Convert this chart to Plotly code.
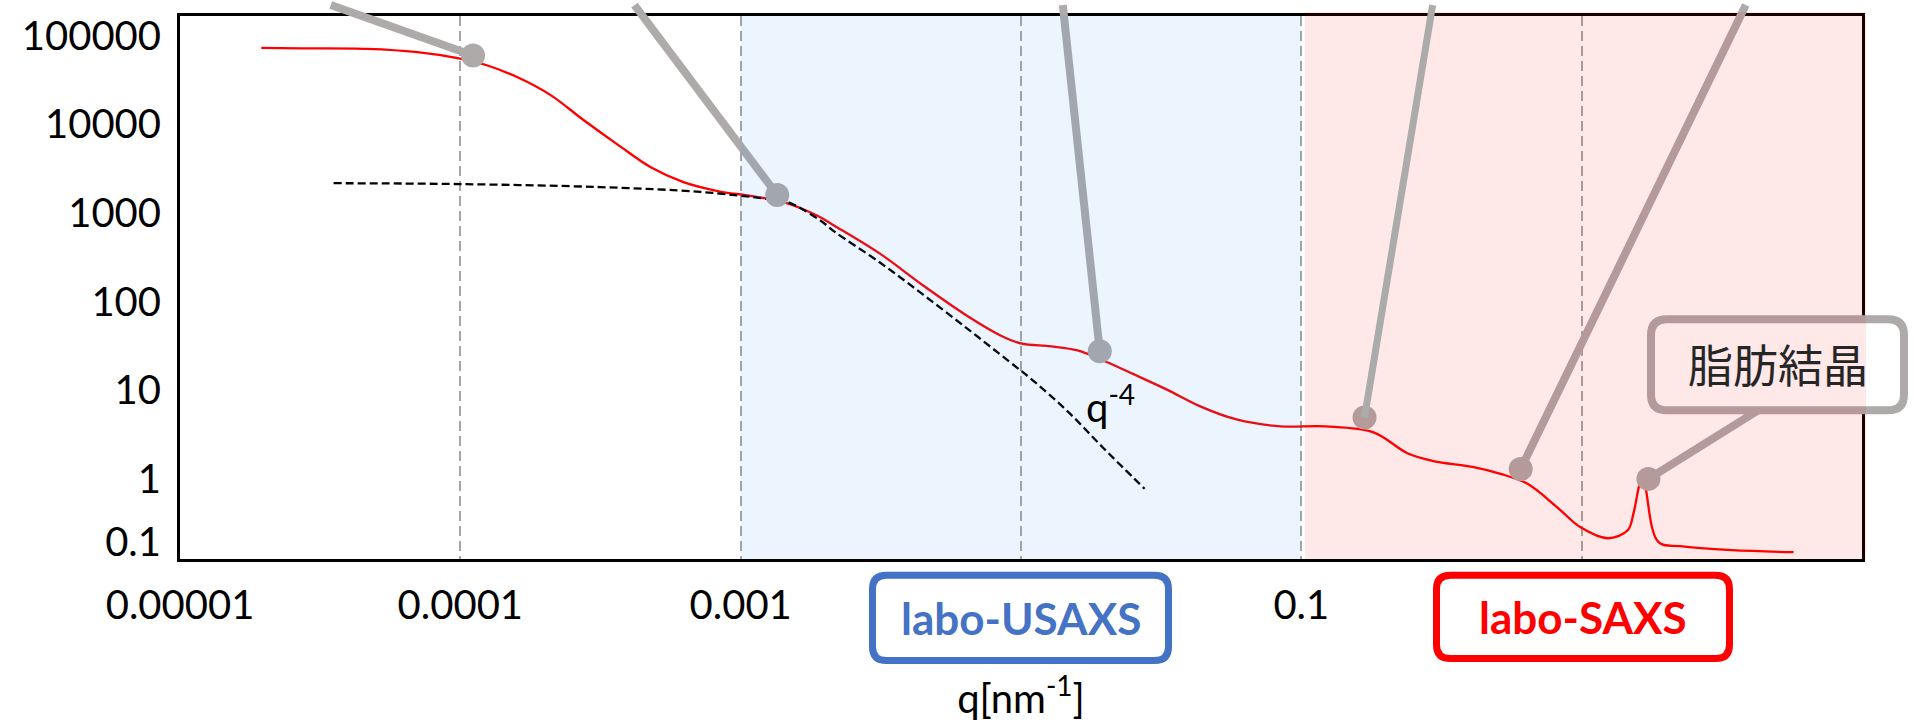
import numpy as np
import plotly.graph_objects as go

# ---------------- data ----------------
q_meas = [1.95e-5, 2.69e-5, 4.67e-5, 7.03e-5, 9.77e-5, 1.25e-4, 1.60e-4, 2.10e-4, 2.75e-4, 3.64e-4,
          4.78e-4, 6.25e-4, 8.28e-4, 1.08e-3, 1.42e-3, 1.88e-3, 2.16e-3, 3.13e-3, 4.49e-3, 6.50e-3,
          8.45e-3, 9.98e-3, 1.28e-2, 1.59e-2, 1.92e-2, 2.52e-2, 3.33e-2, 4.38e-2, 5.87e-2, 8.43e-2,
          0.122, 0.181, 0.239, 0.296, 0.412, 0.514, 0.641, 0.820, 0.991, 1.24,
          1.46, 1.53, 1.61, 1.65, 1.69, 1.88, 2.25, 3.43, 5.70]
I_meas = [72900, 72100, 71100, 65200, 55800, 46200, 34000, 21400, 11200, 5920,
          3280, 2230, 1770, 1560, 1330, 931, 719, 350, 151, 67.5,
          41.5, 33.8, 31.3, 28.2, 22.4, 15.2, 10.1, 6.53, 4.68, 3.91,
          3.91, 3.35, 1.95, 1.59, 1.36, 1.14, 0.879, 0.474, 0.284, 0.214,
          0.263, 0.406, 0.879, 1.05, 0.794, 0.193, 0.174, 0.157, 0.149]

q_model = [3.53e-5, 1.00e-4, 3.16e-4, 7.19e-4, 1.25e-3, 1.47e-3, 1.93e-3, 2.16e-3,
           3.13e-3, 4.49e-3, 6.50e-3, 9.04e-3, 1.11e-2, 1.47e-2, 1.97e-2, 2.76e-2]
I_model = [2170, 2120, 1960, 1730, 1440, 1330, 818, 617,
           278, 119, 48.4, 21.3, 12.7, 5.74, 2.22, 0.773]

callout_q = [1.11e-4, 1.35e-3, 1.91e-2, 0.168, 0.606, 1.73]
callout_I = [59800, 1600, 27.5, 4.92, 1.29, 1.0]
callout_top_q = [3.45e-5, 4.18e-4, 1.41e-2, 0.294, 3.85]   # where leader lines leave the top

x_tickvals = [1e-5, 1e-4, 1e-3, 1e-1]
x_ticktext = ["0.00001", "0.0001", "0.001", "0.1"]
x_gridonly = [1e-2, 1]
y_tickvals = [0.193, 1, 10, 100, 1000, 10000, 100000]
y_ticktext = ["0.1", "1", "10", "100", "1000", "10000", "100000"]

usaxs_range = [1e-3, 1e-1]

# ---------------- layout geometry ----------------
W, H = 1914, 722
ML, MR, MT, MB = 180, 52, 11, 163
PW, PH = W - ML - MR, H - MT - MB
XR = [-5, 1]
YR = [-0.904, 5.223]

FONT = "Lato, 'Liberation Sans', sans-serif"
GRAY = "#AEAAAA"
GRID = dict(showgrid=True, gridcolor="#A6A6A6", griddash="10px,5px", gridwidth=2)


def xp(q):
    return (np.log10(q) - XR[0]) / (XR[1] - XR[0])


def yp(v):
    return (np.log10(v) - YR[0]) / (YR[1] - YR[0])


def pxx(px):
    return (px - ML) / PW


def pxy(py):
    return (MT + PH - py) / PH


def rrect(x0, y0, x1, y1, r):
    pts = [("M", [(x0 + r, y0)]), ("L", [(x1 - r, y0)]), ("Q", [(x1, y0), (x1, y0 + r)]),
           ("L", [(x1, y1 - r)]), ("Q", [(x1, y1), (x1 - r, y1)]), ("L", [(x0 + r, y1)]),
           ("Q", [(x0, y1), (x0, y1 - r)]), ("L", [(x0, y0 + r)]), ("Q", [(x0, y0), (x0 + r, y0)])]
    s = ""
    for cmd, ps in pts:
        s += cmd + " " + " ".join(f"{pxx(a):.5f},{pxy(b):.5f}" for a, b in ps) + " "
    return s + "Z"


fig = go.Figure()

fig.add_trace(go.Scatter(x=q_meas, y=I_meas, mode="lines",
                         line=dict(color="#FF0000", width=2.3, shape="spline", smoothing=1.0),
                         hoverinfo="skip"))
fig.add_trace(go.Scatter(x=q_model, y=I_model, mode="lines",
                         line=dict(color="black", width=2.3, dash="8px,4px", shape="spline", smoothing=1.0),
                         hoverinfo="skip"))
fig.add_trace(go.Scatter(x=callout_q, y=callout_I, mode="markers", cliponaxis=False,
                         marker=dict(size=24, color=GRAY, line=dict(width=0)),
                         hoverinfo="skip"))

shapes = []
ytop = pxy(0)
# leader lines (except the one that sits above the pink overlay)
for i in [0, 1, 2, 4]:
    shapes.append(dict(type="line", xref="paper", yref="paper", layer="above",
                       x0=xp(callout_top_q[i]), y0=ytop, x1=xp(callout_q[i]), y1=yp(callout_I[i]),
                       line=dict(color=GRAY, width=8)))
# fat crystal callout box + its leader
shapes.append(dict(type="line", xref="paper", yref="paper", layer="above",
                   x0=pxx(1758), y0=pxy(409), x1=xp(callout_q[5]), y1=yp(callout_I[5]),
                   line=dict(color=GRAY, width=8)))
shapes.append(dict(type="path", xref="paper", yref="paper", layer="above",
                   path=rrect(1651, 317, 1904, 409, 16), fillcolor="white",
                   line=dict(color=GRAY, width=8)))
# measurement-range overlays
shapes.append(dict(type="rect", xref="paper", yref="paper", layer="above",
                   x0=xp(usaxs_range[0]), x1=xp(usaxs_range[1]), y0=0, y1=1,
                   fillcolor="rgba(40,130,230,0.09)", line=dict(width=0)))
shapes.append(dict(type="rect", xref="paper", yref="paper", layer="above",
                   x0=pxx(1305), x1=pxx(1866), y0=0, y1=pxy(7),
                   fillcolor="rgba(255,0,0,0.09)", line=dict(width=0)))
# leader line drawn over the overlay
shapes.append(dict(type="line", xref="paper", yref="paper", layer="above",
                   x0=xp(callout_top_q[3]), y0=ytop, x1=xp(callout_q[3]), y1=yp(callout_I[3]),
                   line=dict(color="#ABABAB", width=7)))
# labo boxes
shapes.append(dict(type="path", xref="paper", yref="paper", layer="above",
                   path=rrect(872.5, 575.5, 1168.5, 661.5, 14), fillcolor="white",
                   line=dict(color="#4472C4", width=7)))
shapes.append(dict(type="path", xref="paper", yref="paper", layer="above",
                   path=rrect(1436.5, 575.5, 1729.5, 659.5, 14), fillcolor="white",
                   line=dict(color="#FF0000", width=7)))

annotations = [
    dict(text="labo-USAXS", xref="x", yref="paper", x=-2, y=pxy(619), showarrow=False,
         font=dict(family=FONT, size=44, color="#4472C4", weight="bold"), xanchor="center", yanchor="middle"),
    dict(text="labo-SAXS", xref="paper", yref="paper", x=pxx(1583), y=pxy(618), showarrow=False,
         font=dict(family=FONT, size=44, color="#FF0000", weight="bold"), xanchor="center", yanchor="middle"),
    dict(text="q<sup>-4</sup>", xref="paper", yref="paper", x=pxx(1110), y=pxy(403), showarrow=False,
         font=dict(family=FONT, size=40, color="black"), xanchor="center", yanchor="middle"),
    dict(text="脂肪結晶", xref="paper", yref="paper", x=pxx(1778), y=pxy(362), showarrow=False,
         font=dict(family="'Noto Sans CJK JP', sans-serif", size=45, color="#262626"),
         xanchor="center", yanchor="middle"),
]

fig.update_layout(
    width=W, height=H,
    margin=dict(l=ML, r=MR, t=MT, b=MB, pad=0),
    paper_bgcolor="white", plot_bgcolor="white",
    showlegend=False,
    shapes=shapes, annotations=annotations,
    font=dict(family=FONT, color="black"),
    xaxis=dict(type="log", range=XR, showline=True, linecolor="black", linewidth=3, mirror=True,
               ticks="", tickvals=x_tickvals, ticktext=x_ticktext, tickfont=dict(size=40, family=FONT),
               ticklabelstandoff=9, zeroline=False, automargin=False,
               title=dict(text="q[nm<sup>-1</sup>]", font=dict(size=40, family=FONT, color="black"),
                          standoff=63),
               minor=dict(tickvals=x_gridonly, ticks="", **GRID), **GRID),
    yaxis=dict(type="log", range=YR, showline=True, linecolor="black", linewidth=3, mirror=True,
               ticks="", tickvals=y_tickvals, ticktext=y_ticktext, tickfont=dict(size=40, family=FONT),
               ticklabelstandoff=8, showgrid=False, zeroline=False),
)

fig.write_html("out.html")
